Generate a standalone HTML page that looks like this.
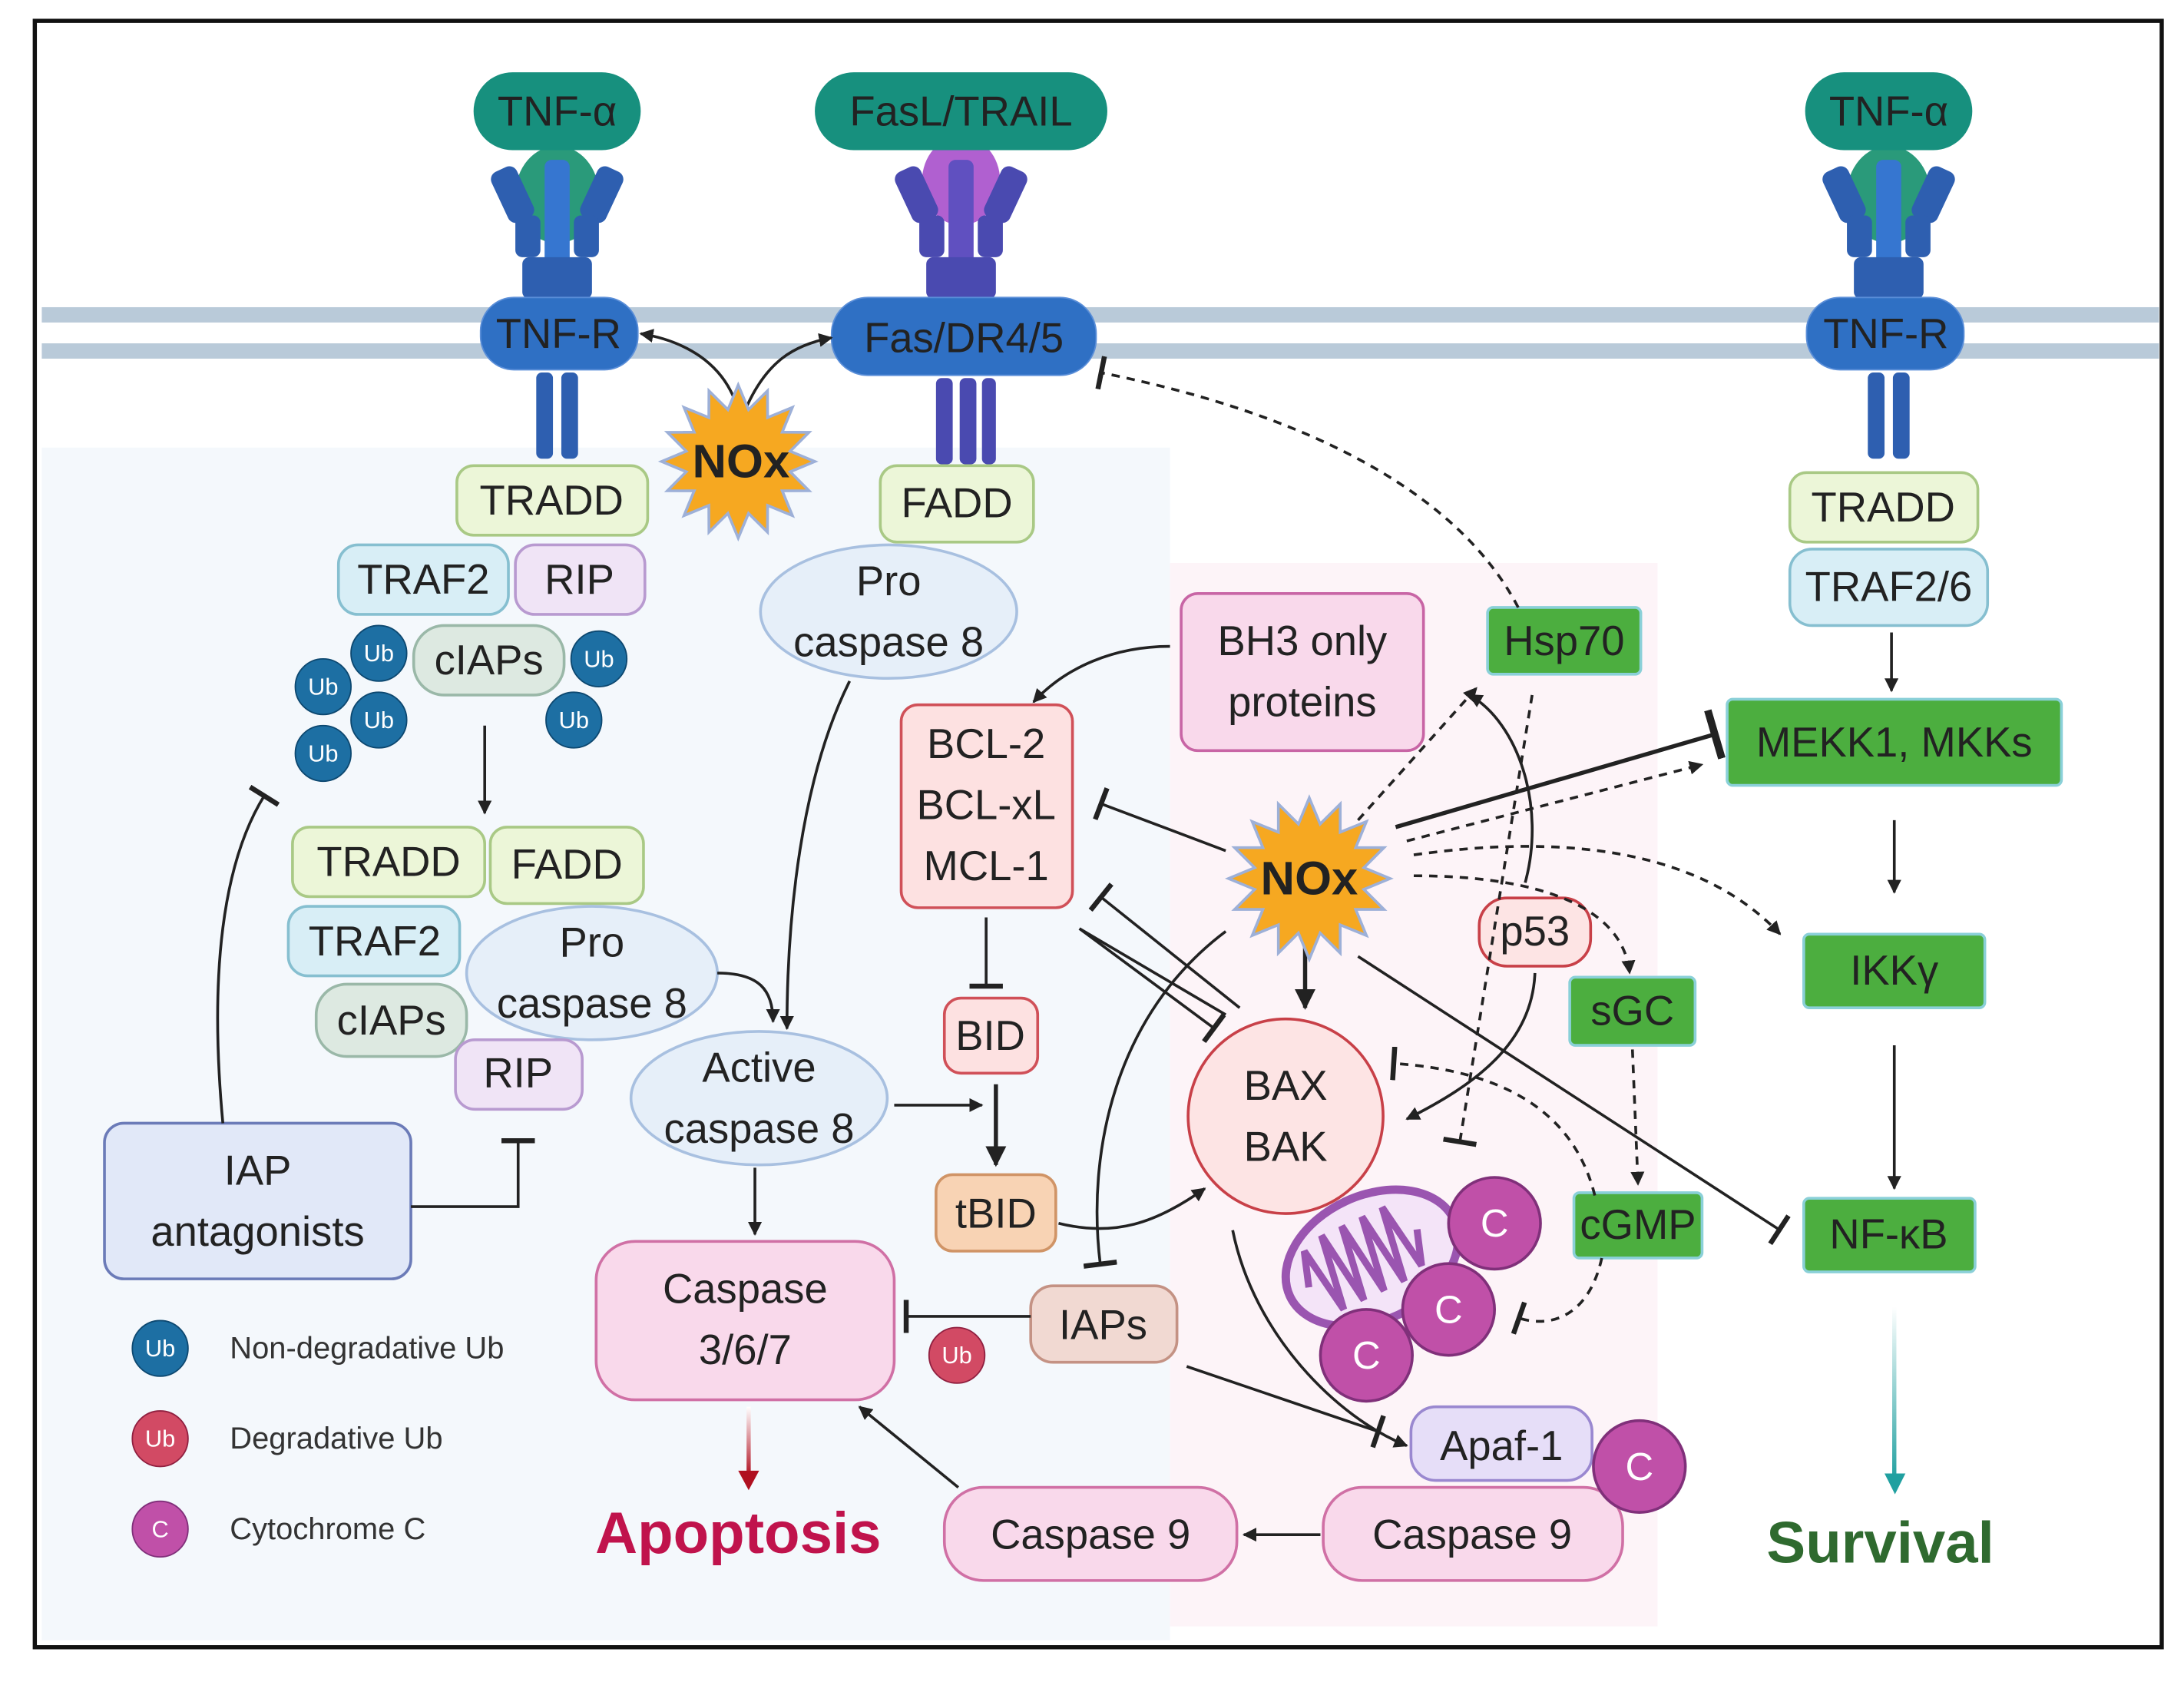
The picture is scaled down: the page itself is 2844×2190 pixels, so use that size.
<!DOCTYPE html>
<html><head><meta charset="utf-8"><style>
html,body{margin:0;padding:0;background:#fff}
svg{display:block}
text{font-family:"Liberation Sans",sans-serif;fill:#222;text-anchor:middle;dominant-baseline:central}
</style></head><body>
<svg width="2844" height="2190" viewBox="0 0 1568 1210" preserveAspectRatio="none" xmlns="http://www.w3.org/2000/svg">
<defs>
<marker id="a" viewBox="0 0 10 10" refX="9" refY="5" markerWidth="5" markerHeight="5" orient="auto"><path d="M0,0L10,5L0,10z" fill="#222"/></marker>
<marker id="t" viewBox="0 0 4 20" refX="2" refY="10" markerWidth="3" markerHeight="12" orient="auto"><rect x="0" y="0" width="3" height="20" fill="#222"/></marker>
<linearGradient id="gt" gradientUnits="userSpaceOnUse" x1="0" y1="940" x2="0" y2="1065"><stop offset="0" stop-color="#fff"/><stop offset="1" stop-color="#20a0a0"/></linearGradient>
<linearGradient id="gr" gradientUnits="userSpaceOnUse" x1="0" y1="1012" x2="0" y2="1062"><stop offset="0" stop-color="#fff"/><stop offset="1" stop-color="#b01020"/></linearGradient>
</defs>
<rect x="0" y="0" width="1568" height="1210" fill="#fff"/>
<rect x="30" y="322" width="810" height="858" fill="#f4f8fc"/>
<rect x="840" y="405" width="350" height="765" fill="#fdf4f8"/>
<rect x="25" y="15" width="1527" height="1170" fill="none" stroke="#111" stroke-width="3"/>
<rect x="30" y="221" width="1520" height="11" fill="#b9cad9"/>
<rect x="30" y="247" width="1520" height="11" fill="#b9cad9"/>
<g id="r1">
<ellipse cx="400" cy="140" rx="30" ry="35" fill="#2a9a7a"/>
<rect x="358" y="120" width="20" height="40" rx="6" fill="#2e5fb0" transform="rotate(-25 368 140)"/>
<rect x="422" y="120" width="20" height="40" rx="6" fill="#2e5fb0" transform="rotate(25 432 140)"/>
<rect x="391" y="115" width="18" height="100" rx="5" fill="#3676d0"/>
<rect x="370" y="155" width="18" height="30" rx="5" fill="#2e5fb0"/>
<rect x="412" y="155" width="18" height="30" rx="5" fill="#2e5fb0"/>
<rect x="375" y="185" width="50" height="30" rx="5" fill="#2e5fb0"/>
<rect x="385" y="268" width="12" height="62" rx="4" fill="#2e5fb0"/>
<rect x="403" y="268" width="12" height="62" rx="4" fill="#2e5fb0"/>
</g>
<use href="#r1" x="956" y="0"/>
<g>
<ellipse cx="690" cy="130" rx="28" ry="32" fill="#b060d0"/>
<rect x="648" y="120" width="20" height="40" rx="6" fill="#4a4ab0" transform="rotate(-25 658 140)"/>
<rect x="712" y="120" width="20" height="40" rx="6" fill="#4a4ab0" transform="rotate(25 722 140)"/>
<rect x="681" y="115" width="18" height="100" rx="5" fill="#6050c0"/>
<rect x="660" y="155" width="18" height="30" rx="5" fill="#4a4ab0"/>
<rect x="702" y="155" width="18" height="30" rx="5" fill="#4a4ab0"/>
<rect x="665" y="185" width="50" height="30" rx="5" fill="#4a4ab0"/>
<rect x="672" y="272" width="12" height="62" rx="4" fill="#4a4ab0"/>
<rect x="689" y="272" width="12" height="62" rx="4" fill="#4a4ab0"/>
<rect x="705" y="272" width="10" height="62" rx="4" fill="#4a4ab0"/>
</g>
<rect x="340" y="52" width="120" height="56" rx="28" fill="#17907e"/><text x="400" y="80" font-size="30">TNF-α</text>
<rect x="585" y="52" width="210" height="56" rx="28" fill="#17907e"/><text x="690" y="80" font-size="30">FasL/TRAIL</text>
<rect x="1296" y="52" width="120" height="56" rx="28" fill="#17907e"/><text x="1356" y="80" font-size="30">TNF-α</text>
<rect x="345" y="214" width="113" height="52" rx="24" fill="#2f70c4" stroke="#5a8ed8"/><text x="401" y="240" font-size="30">TNF-R</text>
<rect x="597" y="214" width="190" height="56" rx="26" fill="#2f70c4" stroke="#5a8ed8"/><text x="692" y="243" font-size="30">Fas/DR4/5</text>
<rect x="1297" y="214" width="113" height="52" rx="24" fill="#2f70c4" stroke="#5a8ed8"/><text x="1354" y="240" font-size="30">TNF-R</text>
<path d="M530,295 C520,260 490,245 460,240" fill="none" stroke="#222" stroke-width="2" marker-end="url(#a)"/>
<path d="M535,295 C550,260 570,248 597,243" fill="none" stroke="#222" stroke-width="2" marker-end="url(#a)"/>
<g font-size="30">
<rect x="328" y="335" width="137" height="50" rx="12" fill="#ecf6d8" stroke="#a9c985" stroke-width="2"/><text x="396" y="360">TRADD</text>
<rect x="243" y="392" width="122" height="50" rx="14" fill="#d8eef6" stroke="#86bfd0" stroke-width="2"/><text x="304" y="417">TRAF2</text>
<rect x="370" y="392" width="93" height="50" rx="14" fill="#f0e4f6" stroke="#b89ad0" stroke-width="2"/><text x="416" y="417">RIP</text>
<rect x="297" y="450" width="108" height="50" rx="22" fill="#dde9e1" stroke="#9ab8a8" stroke-width="2"/><text x="351" y="475">cIAPs</text>
</g>
<g font-size="17">
<circle cx="272" cy="470" r="20" fill="#1d6fa3" stroke="#0d4870"/><text x="272" y="470" style="fill:#fff">Ub</text>
<circle cx="232" cy="494" r="20" fill="#1d6fa3" stroke="#0d4870"/><text x="232" y="494" style="fill:#fff">Ub</text>
<circle cx="272" cy="518" r="20" fill="#1d6fa3" stroke="#0d4870"/><text x="272" y="518" style="fill:#fff">Ub</text>
<circle cx="232" cy="542" r="20" fill="#1d6fa3" stroke="#0d4870"/><text x="232" y="542" style="fill:#fff">Ub</text>
<circle cx="430" cy="474" r="20" fill="#1d6fa3" stroke="#0d4870"/><text x="430" y="474" style="fill:#fff">Ub</text>
<circle cx="412" cy="518" r="20" fill="#1d6fa3" stroke="#0d4870"/><text x="412" y="518" style="fill:#fff">Ub</text>
</g>
<line x1="348" y1="522" x2="348" y2="585" stroke="#222" stroke-width="2" marker-end="url(#a)"/>
<g font-size="30">
<rect x="210" y="595" width="138" height="50" rx="12" fill="#ecf6d8" stroke="#a9c985" stroke-width="2"/><text x="279" y="620">TRADD</text>
<rect x="352" y="595" width="110" height="55" rx="12" fill="#ecf6d8" stroke="#a9c985" stroke-width="2"/><text x="407" y="622">FADD</text>
<rect x="207" y="652" width="123" height="50" rx="14" fill="#d8eef6" stroke="#86bfd0" stroke-width="2"/><text x="269" y="677">TRAF2</text>
<rect x="227" y="708" width="108" height="52" rx="22" fill="#dde9e1" stroke="#9ab8a8" stroke-width="2"/><text x="281" y="734">cIAPs</text>
<ellipse cx="425" cy="700" rx="90" ry="48" fill="#e6eff9" stroke="#a8c0e0" stroke-width="2"/><text x="425" y="678">Pro</text><text x="425" y="722">caspase 8</text>
<rect x="327" y="748" width="91" height="50" rx="14" fill="#f0e4f6" stroke="#b89ad0" stroke-width="2"/><text x="372" y="772">RIP</text>
<rect x="75" y="808" width="220" height="112" rx="14" fill="#e1e8f8" stroke="#6b7bb8" stroke-width="2"/><text x="185" y="842">IAP</text><text x="185" y="886">antagonists</text>
</g>
<path d="M160,808 C150,700 160,620 190,572" fill="none" stroke="#222" stroke-width="2" marker-end="url(#t)"/>
<path d="M295,868 L372,868 L372,820" fill="none" stroke="#222" stroke-width="2" marker-end="url(#t)"/>
<g font-size="30">
<rect x="632" y="335" width="110" height="55" rx="12" fill="#ecf6d8" stroke="#a9c985" stroke-width="2"/><text x="687" y="362">FADD</text>
<ellipse cx="638" cy="440" rx="92" ry="48" fill="#e6eff9" stroke="#a8c0e0" stroke-width="2"/><text x="638" y="418">Pro</text><text x="638" y="462">caspase 8</text>
</g>
<path d="M610,490 C575,560 565,660 565,740" fill="none" stroke="#222" stroke-width="2" marker-end="url(#a)"/>
<path d="M515,700 C545,700 555,712 555,735" fill="none" stroke="#222" stroke-width="2" marker-end="url(#a)"/>
<g font-size="30">
<ellipse cx="545" cy="790" rx="92" ry="48" fill="#e6eff9" stroke="#a8c0e0" stroke-width="2"/><text x="545" y="768">Active</text><text x="545" y="812">caspase 8</text>
</g>
<line x1="642" y1="795" x2="705" y2="795" stroke="#222" stroke-width="2" marker-end="url(#a)"/>
<line x1="542" y1="840" x2="542" y2="888" stroke="#222" stroke-width="2" marker-end="url(#a)"/>
<g font-size="30">
<rect x="428" y="893" width="214" height="114" rx="28" fill="#f9d9eb" stroke="#d070a5" stroke-width="2"/><text x="535" y="927">Caspase</text><text x="535" y="971">3/6/7</text>
</g>
<rect x="536" y="1012" width="3" height="50" fill="url(#gr)"/>
<path d="M530,1058 L545,1058 L537.5,1072z" fill="#b01020"/>
<text x="530" y="1103" font-size="42" font-weight="bold" style="fill:#c0134c">Apoptosis</text>
<g font-size="17">
<circle cx="115" cy="970" r="20" fill="#1d6fa3" stroke="#0d4870"/><text x="115" y="970" style="fill:#fff">Ub</text>
<circle cx="115" cy="1035" r="20" fill="#d24a64" stroke="#902040"/><text x="115" y="1035" style="fill:#fff">Ub</text>
<circle cx="115" cy="1100" r="20" fill="#c050a8" stroke="#80307a"/><text x="115" y="1100" style="fill:#fff">C</text>
</g>
<g font-size="22"><text x="165" y="970" style="text-anchor:start;fill:#333">Non-degradative Ub</text><text x="165" y="1035" style="text-anchor:start;fill:#333">Degradative Ub</text><text x="165" y="1100" style="text-anchor:start;fill:#333">Cytochrome C</text></g>
<circle cx="687" cy="975" r="20" fill="#d24a64" stroke="#902040"/><text x="687" y="975" font-size="17" style="fill:#fff">Ub</text>
<rect x="740" y="925" width="105" height="55" rx="16" fill="#f1d9d2" stroke="#c49284" stroke-width="2"/><text x="792" y="953" font-size="30">IAPs</text>
<line x1="740" y1="947" x2="650" y2="947" stroke="#222" stroke-width="2" marker-end="url(#t)"/>
<line x1="852" y1="983" x2="990" y2="1030" stroke="#222" stroke-width="2" marker-end="url(#t)"/>
<g font-size="30">
<rect x="647" y="507" width="123" height="146" rx="12" fill="#fde1e1" stroke="#d05058" stroke-width="2"/><text x="708" y="535">BCL-2</text><text x="708" y="579">BCL-xL</text><text x="708" y="623">MCL-1</text>
<rect x="678" y="718" width="67" height="54" rx="12" fill="#fde1e1" stroke="#d05058" stroke-width="2"/><text x="711" y="745">BID</text>
<rect x="672" y="845" width="86" height="55" rx="12" fill="#f8d3b4" stroke="#d09466" stroke-width="2"/><text x="715" y="873">tBID</text>
<rect x="848" y="427" width="174" height="113" rx="12" fill="#f9d9eb" stroke="#c865a5" stroke-width="2"/><text x="935" y="461">BH3 only</text><text x="935" y="505">proteins</text>
</g>
<line x1="708" y1="660" x2="708" y2="710" stroke="#222" stroke-width="2" marker-end="url(#t)"/>
<line x1="715" y1="780" x2="715" y2="838" stroke="#222" stroke-width="3" marker-end="url(#a)"/>
<path d="M840,465 C800,465 765,480 742,505" fill="none" stroke="#222" stroke-width="2" marker-end="url(#a)"/>
<path d="M760,880 C800,890 830,880 865,855" fill="none" stroke="#222" stroke-width="2" marker-end="url(#a)"/>
<g font-size="30">
<rect x="678" y="1070" width="210" height="67" rx="28" fill="#f9d9eb" stroke="#d070a5" stroke-width="2"/><text x="783" y="1104">Caspase 9</text>
<rect x="950" y="1070" width="215" height="67" rx="28" fill="#f9d9eb" stroke="#d070a5" stroke-width="2"/><text x="1057" y="1104">Caspase 9</text>
<rect x="1013" y="1012" width="130" height="53" rx="18" fill="#e6def8" stroke="#9a88d0" stroke-width="2"/><text x="1078" y="1040">Apaf-1</text>
</g>
<line x1="948" y1="1104" x2="893" y2="1104" stroke="#222" stroke-width="2" marker-end="url(#a)"/>
<line x1="688" y1="1070" x2="617" y2="1012" stroke="#222" stroke-width="2" marker-end="url(#a)"/>
<circle cx="923" cy="803" r="70" fill="#fde4e4" stroke="#c84048" stroke-width="2"/>
<text x="923" y="781" font-size="30">BAX</text><text x="923" y="825" font-size="30">BAK</text>
<path d="M885,885 C900,960 960,1020 1010,1040" fill="none" stroke="#222" stroke-width="2" marker-end="url(#a)"/>
<g transform="rotate(-25 985 905)">
<ellipse cx="985" cy="905" rx="65" ry="45" fill="#f4e4f8" stroke="#9a55b0" stroke-width="6"/>
<path d="M935,905 l8,-25 l8,50 l8,-55 l8,55 l8,-55 l8,55 l8,-55 l8,55 l8,-55 l8,50 l8,-25" fill="none" stroke="#9a55b0" stroke-width="5"/>
</g>
<g font-size="28">
<circle cx="1073" cy="880" r="33" fill="#c050a8" stroke="#80307a" stroke-width="2"/><text x="1073" y="880" style="fill:#fff">C</text>
<circle cx="1040" cy="942" r="33" fill="#c050a8" stroke="#80307a" stroke-width="2"/><text x="1040" y="942" style="fill:#fff">C</text>
<circle cx="981" cy="975" r="33" fill="#c050a8" stroke="#80307a" stroke-width="2"/><text x="981" y="975" style="fill:#fff">C</text>
<circle cx="1177" cy="1055" r="33" fill="#c050a8" stroke="#80307a" stroke-width="2"/><text x="1177" y="1055" style="fill:#fff">C</text>
</g>
<g font-size="30">
<rect x="1068" y="437" width="110" height="48" rx="4" fill="#4cae3f" stroke="#8ad0d8" stroke-width="2"/><text x="1123" y="461">Hsp70</text>
<rect x="1127" y="703" width="90" height="49" rx="4" fill="#4cae3f" stroke="#8ad0d8" stroke-width="2"/><text x="1172" y="727">sGC</text>
<rect x="1130" y="858" width="92" height="47" rx="4" fill="#4cae3f" stroke="#8ad0d8" stroke-width="2"/><text x="1176" y="881">cGMP</text>
<rect x="1062" y="646" width="80" height="49" rx="20" fill="#fde4e4" stroke="#c84048" stroke-width="2"/><text x="1102" y="670">p53</text>
<rect x="1240" y="503" width="240" height="62" rx="4" fill="#4cae3f" stroke="#8ad0d8" stroke-width="2"/><text x="1360" y="534">MEKK1, MKKs</text>
<rect x="1295" y="672" width="130" height="53" rx="4" fill="#4cae3f" stroke="#8ad0d8" stroke-width="2"/><text x="1360" y="698">IKKγ</text>
<rect x="1295" y="862" width="123" height="53" rx="4" fill="#4cae3f" stroke="#8ad0d8" stroke-width="2"/><text x="1356" y="888">NF-κB</text>
<rect x="1285" y="340" width="135" height="50" rx="12" fill="#ecf6d8" stroke="#a9c985" stroke-width="2"/><text x="1352" y="365">TRADD</text>
<rect x="1285" y="395" width="142" height="55" rx="16" fill="#d8eef6" stroke="#86bfd0" stroke-width="2"/><text x="1356" y="422">TRAF2/6</text>
</g>
<line x1="1358" y1="455" x2="1358" y2="497" stroke="#222" stroke-width="2" marker-end="url(#a)"/>
<line x1="1360" y1="590" x2="1360" y2="642" stroke="#222" stroke-width="2" marker-end="url(#a)"/>
<line x1="1360" y1="752" x2="1360" y2="855" stroke="#222" stroke-width="2" marker-end="url(#a)"/>
<rect x="1358.5" y="940" width="3" height="122" fill="url(#gt)"/>
<path d="M1353,1060 L1368,1060 L1360.5,1075z" fill="#20a0a0"/>
<text x="1350" y="1110" font-size="42" font-weight="bold" style="fill:#2f6a2f">Survival</text>
<g fill="none" stroke="#222" stroke-width="2">
<line x1="880" y1="612" x2="790" y2="578" marker-end="url(#t)"/>
<line x1="890" y1="725" x2="790" y2="645" marker-end="url(#t)"/>
<line x1="880" y1="730" x2="775" y2="668"/>
<line x1="775" y1="668" x2="872" y2="740" marker-end="url(#t)"/>
<path d="M880,670 C800,730 780,830 790,910" marker-end="url(#t)"/>
<line x1="937" y1="668" x2="937" y2="725" stroke-width="3" marker-end="url(#a)"/>
<line x1="1002" y1="595" x2="1232" y2="528" stroke-width="3" marker-end="url(#t)"/>
<line x1="975" y1="688" x2="1278" y2="885" marker-end="url(#t)"/>
<path d="M1095,635 C1110,580 1090,520 1055,500" marker-end="url(#a)"/>
<path d="M1102,700 C1100,750 1060,780 1010,805" marker-end="url(#a)"/>
</g>
<g fill="none" stroke="#222" stroke-width="2" stroke-dasharray="6,5">
<path d="M1090,437 C1050,360 950,300 790,268" marker-end="url(#t)"/>
<line x1="975" y1="590" x2="1060" y2="495" marker-end="url(#a)"/>
<line x1="1010" y1="605" x2="1222" y2="550" marker-end="url(#a)"/>
<path d="M1015,615 C1120,600 1220,610 1278,672" marker-end="url(#a)"/>
<path d="M1015,630 C1100,630 1165,650 1170,700" marker-end="url(#a)"/>
<line x1="1172" y1="755" x2="1176" y2="852" marker-end="url(#a)"/>
<path d="M1150,905 C1140,950 1110,955 1090,948" marker-end="url(#t)"/>
<path d="M1145,860 C1130,800 1080,770 1000,765" marker-end="url(#t)"/>
<line x1="1100" y1="500" x2="1048" y2="822" marker-end="url(#t)"/>
</g>
<polygon id="star1" fill="#f6a821" stroke="#9db0d8" stroke-width="2" points=""/>
<polygon id="star2" fill="#f6a821" stroke="#9db0d8" stroke-width="2" points=""/>
<text x="532" y="332" font-size="34" font-weight="bold">NOx</text>
<text x="940" y="632" font-size="34" font-weight="bold">NOx</text>
<script>
function st(id,cx,cy,R,r,n){var p=[];for(var i=0;i<2*n;i++){var a=Math.PI*i/n-Math.PI/2,rr=i%2?r:R;p.push((cx+rr*Math.cos(a)).toFixed(1)+","+(cy+rr*Math.sin(a)).toFixed(1));}document.getElementById(id).setAttribute("points",p.join(" "));}
st("star1",530,332,55,38,16);st("star2",940,632,58,40,16);
</script>
</svg>
</body></html>
